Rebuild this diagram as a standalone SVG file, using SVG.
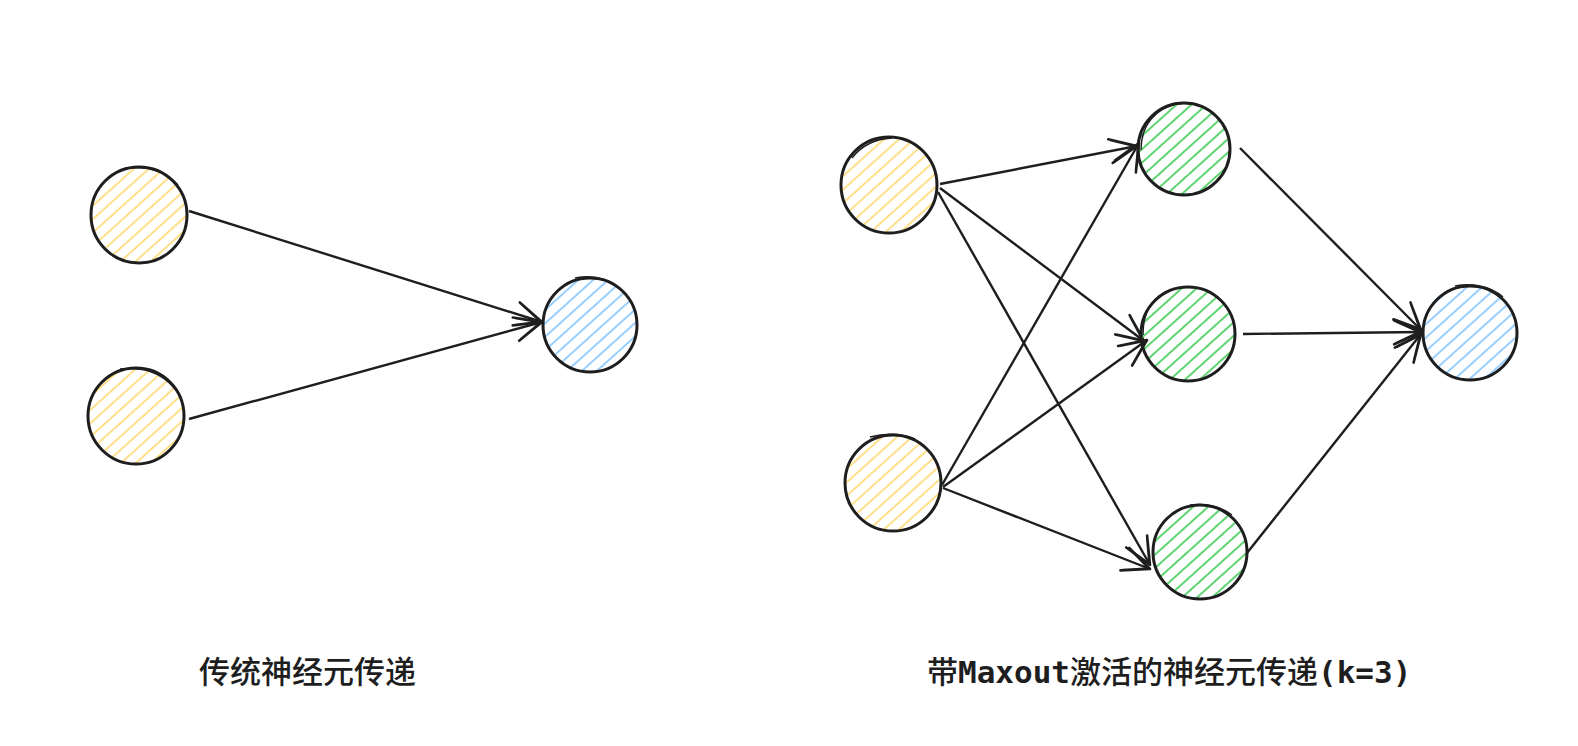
<svg xmlns="http://www.w3.org/2000/svg" width="1578" height="746" viewBox="0 0 1578 746">
  <style>
    .node { stroke: #1e1e1e; stroke-width: 3; }
    .sk { fill: none; stroke: #1e1e1e; stroke-width: 1.4; }
    .edge { fill: none; stroke: #1e1e1e; stroke-width: 2.4; marker-end: url(#arrow); }
    .label { font-family: "DejaVu Sans Mono", "Noto Sans CJK SC", monospace; font-size: 31px; font-weight: 500; fill: #1e1e1e; }
    .lat { font-weight: bold; }
  </style>
  <defs>
    <pattern id="hY" patternUnits="userSpaceOnUse" width="10" height="10" patternTransform="rotate(-42)">
      <line x1="0" y1="5" x2="10" y2="5" stroke="#ffe08a" stroke-width="2"/>
    </pattern>
    <pattern id="hB" patternUnits="userSpaceOnUse" width="10" height="10" patternTransform="rotate(-42)">
      <line x1="0" y1="5" x2="10" y2="5" stroke="#99cfff" stroke-width="2"/>
    </pattern>
    <pattern id="hG" patternUnits="userSpaceOnUse" width="10" height="10" patternTransform="rotate(-42)">
      <line x1="0" y1="5" x2="10" y2="5" stroke="#5fd572" stroke-width="2"/>
    </pattern>
    <marker id="arrow" markerUnits="userSpaceOnUse" markerWidth="60" markerHeight="40" viewBox="-40 -20 60 40" refX="0" refY="0" orient="auto" overflow="visible">
      <path d="M-27,-12 L0,0 L-27,12 M-25,-11 L-1,0 L-25,11" fill="none" stroke="#1e1e1e" stroke-width="2.6" stroke-linecap="round" stroke-linejoin="round"/>
    </marker>
  </defs>
  <rect width="1578" height="746" fill="#ffffff"/>

  <g id="connectors">
    <line class="edge" x1="189" y1="211" x2="542" y2="322"/>
    <line class="edge" x1="189" y1="419" x2="542" y2="322"/>
    <line class="edge" x1="940" y1="184" x2="1137" y2="146"/>
    <line class="edge" x1="940" y1="188" x2="1144" y2="341"/>
    <line class="edge" x1="938" y1="192" x2="1150" y2="565"/>
    <line class="edge" x1="942" y1="485" x2="1139" y2="143"/>
    <line class="edge" x1="943" y1="487" x2="1147" y2="340"/>
    <line class="edge" x1="943" y1="488" x2="1150" y2="569"/>
    <line class="edge" x1="1240" y1="148" x2="1421" y2="330"/>
    <line class="edge" x1="1243" y1="334" x2="1421" y2="332"/>
    <line class="edge" x1="1247" y1="553" x2="1421" y2="334"/>
  </g>

  <g id="n-left-in1">
    <circle class="node" cx="139" cy="215" r="48" fill="url(#hY)"/>
    <path class="sk" d="M125,168 C145,166 165,170 178,185"/>
  </g>
  <g id="n-left-in2">
    <circle class="node" cx="136" cy="416" r="48" fill="url(#hY)"/>
    <path class="sk" d="M120,369 C140,367 160,370 176,390"/>
  </g>
  <g id="n-left-out">
    <circle class="node" cx="590" cy="325" r="47" fill="url(#hB)"/>
    <path class="sk" d="M575,278 C590,275 605,276 620,289"/>
  </g>

  <g id="n-right-in1">
    <circle class="node" cx="889" cy="185" r="48" fill="url(#hY)"/>
    <path class="sk" d="M852,158 C862,145 875,139 892,138"/>
  </g>
  <g id="n-right-in2">
    <circle class="node" cx="893" cy="483" r="48" fill="url(#hY)"/>
    <path class="sk" d="M870,437 C885,433 900,433 915,439"/>
  </g>
  <g id="n-hidden1">
    <circle class="node" cx="1184" cy="149" r="46" fill="url(#hG)"/>
    <path class="sk" d="M1141,150 C1141,125 1155,108 1180,103"/>
  </g>
  <g id="n-hidden2">
    <circle class="node" cx="1188" cy="334" r="47" fill="url(#hG)"/>
    <path class="sk" d="M1143,335 C1143,315 1150,300 1165,292"/>
  </g>
  <g id="n-hidden3">
    <circle class="node" cx="1200" cy="552" r="47" fill="url(#hG)"/>
    <path class="sk" d="M1190,505 C1205,503 1220,506 1232,515"/>
  </g>
  <g id="n-right-out">
    <circle class="node" cx="1470" cy="333" r="47" fill="url(#hB)"/>
    <path class="sk" d="M1455,286 C1470,283 1490,285 1503,297"/>
  </g>

  <g id="labels">
    <text class="label" x="199" y="683">传统神经元传递</text>
    <text class="label" x="927" y="683">带<tspan class="lat">Maxout</tspan>激活的神经元传递<tspan class="lat">(k=3)</tspan></text>
  </g>
</svg>
